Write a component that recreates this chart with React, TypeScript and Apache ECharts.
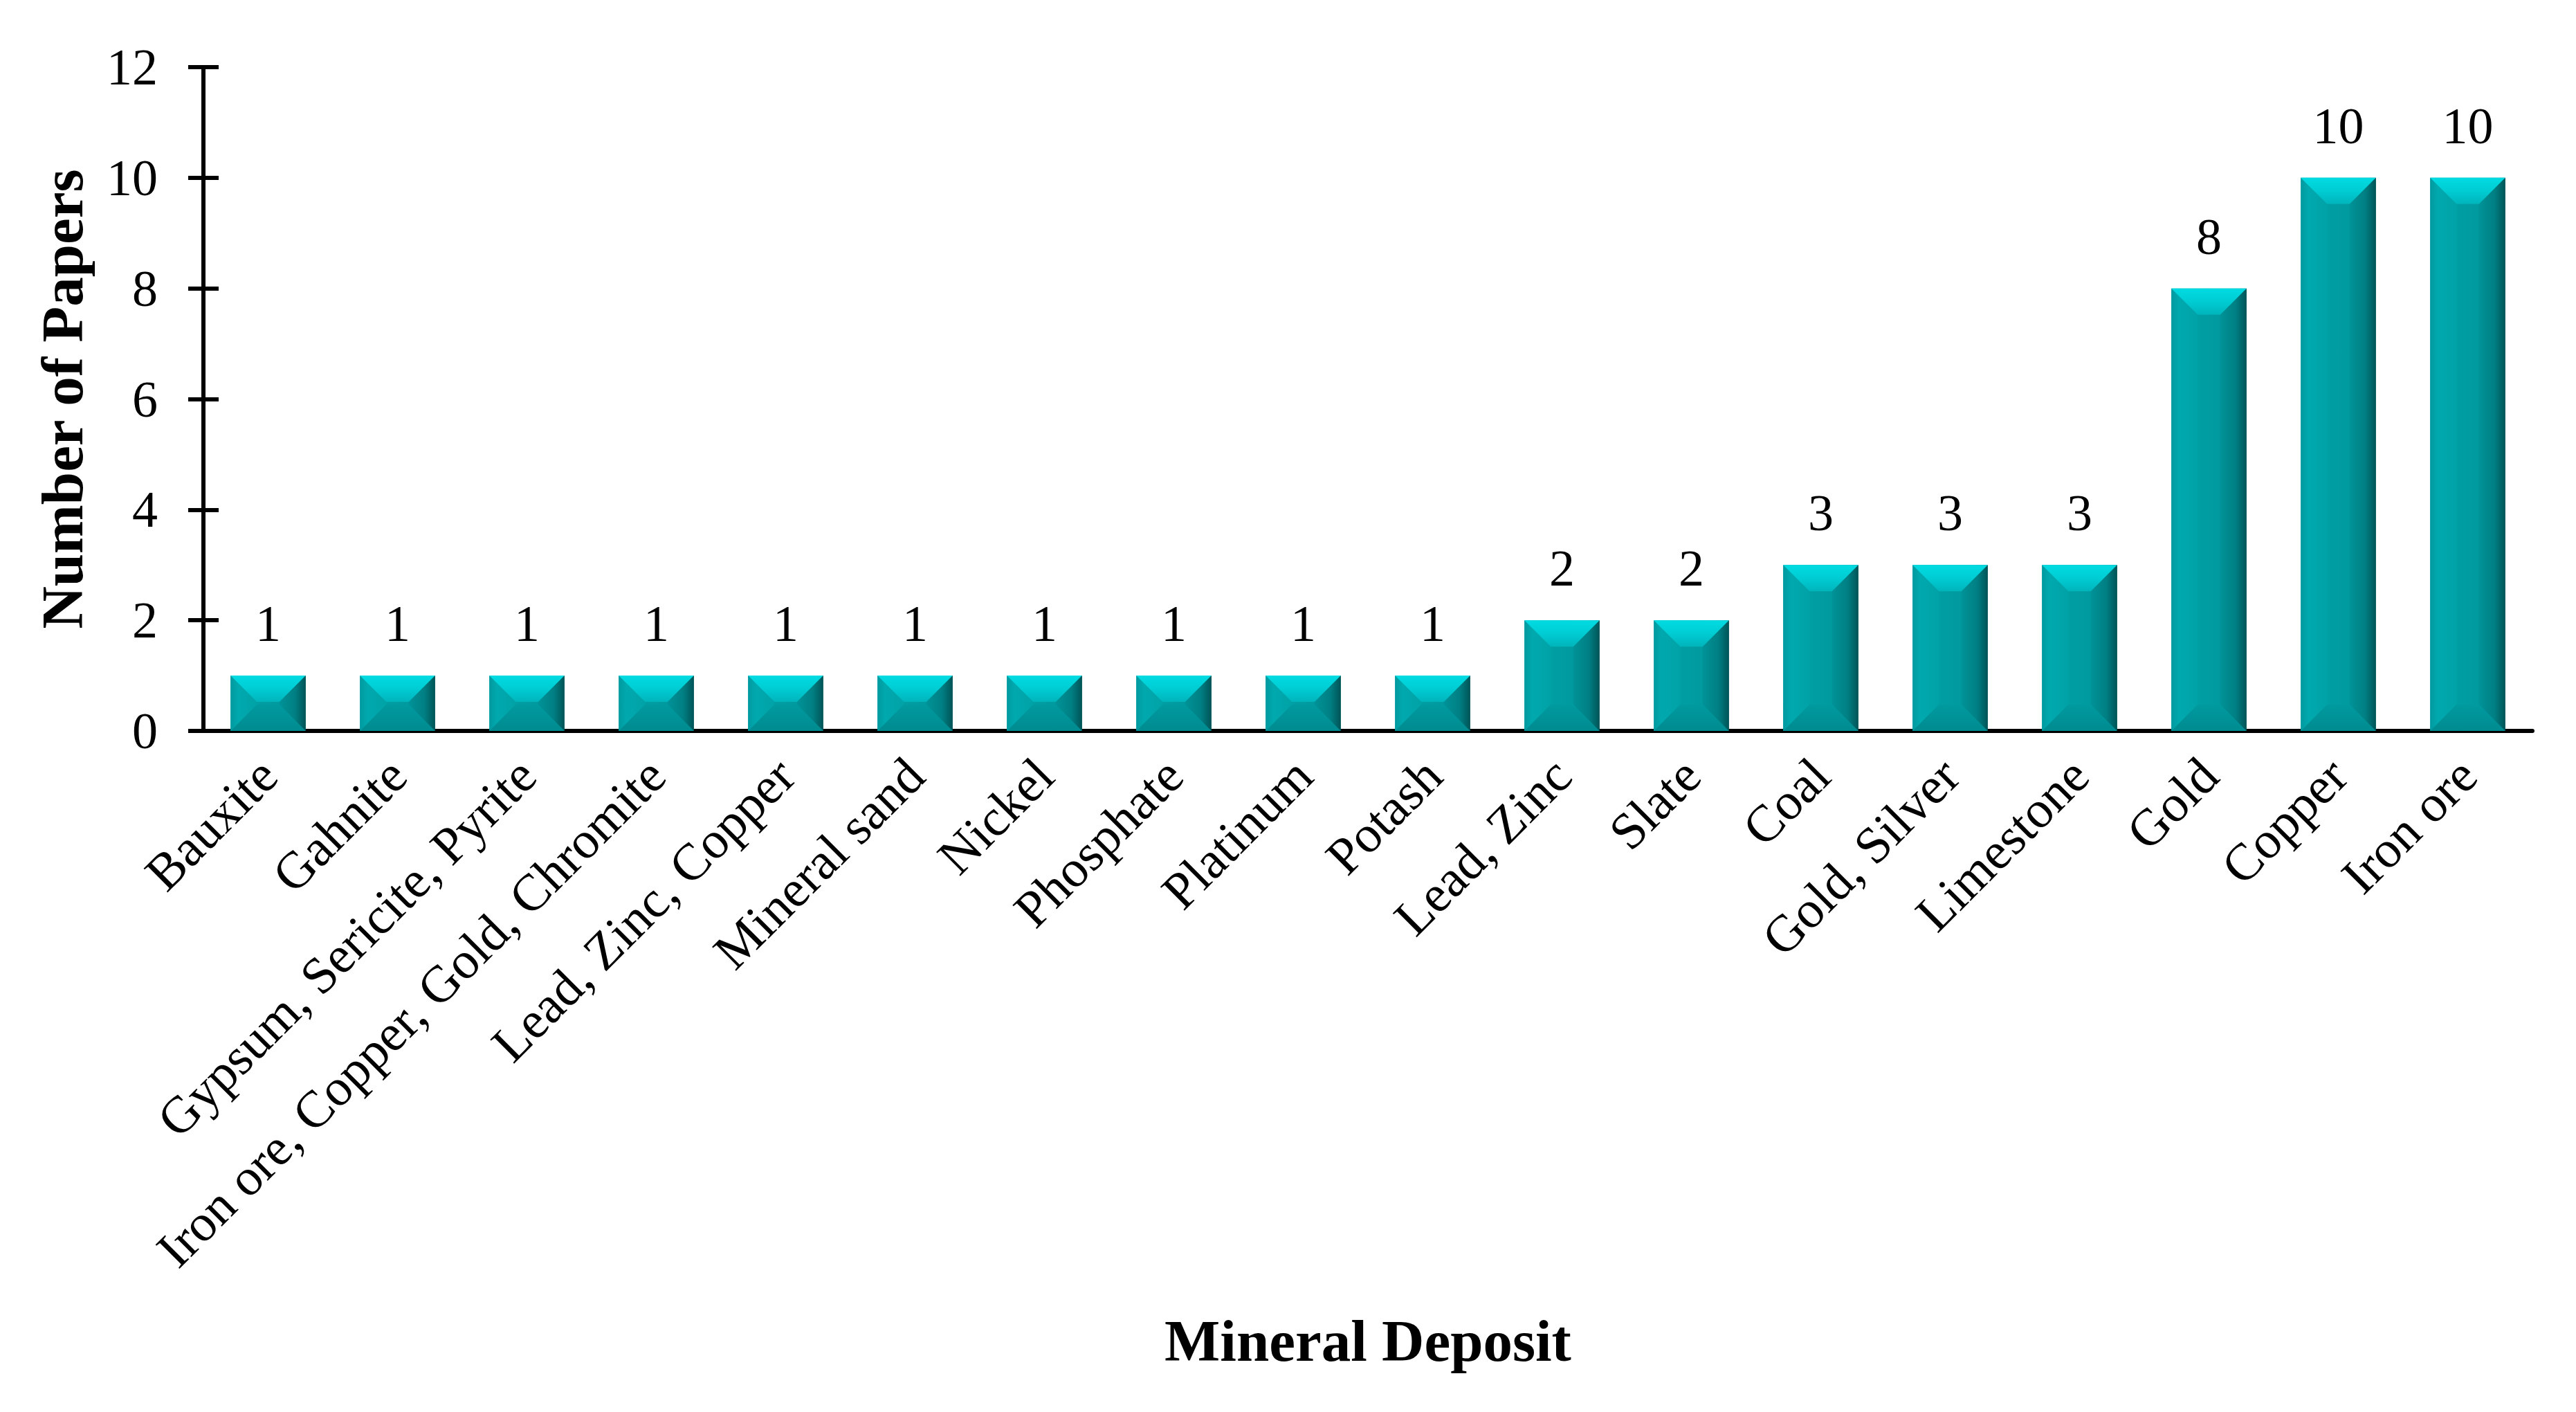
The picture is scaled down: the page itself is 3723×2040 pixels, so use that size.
import React, { useEffect, useRef } from "react";
import * as echarts from "echarts";

const categories: string[] = [
  "Bauxite",
  "Gahnite",
  "Gypsum, Sericite, Pyrite",
  "Iron ore, Copper, Gold, Chromite",
  "Lead, Zinc, Copper",
  "Mineral sand",
  "Nickel",
  "Phosphate",
  "Platinum",
  "Potash",
  "Lead, Zinc",
  "Slate",
  "Coal",
  "Gold, Silver",
  "Limestone",
  "Gold",
  "Copper",
  "Iron ore",
];
const paperCounts: number[] = [1, 1, 1, 1, 1, 1, 1, 1, 1, 1, 2, 2, 3, 3, 3, 8, 10, 10];
const yMin = 0;
const yMax = 12;
const yInterval = 2;

const xAxisTitle = "Mineral Deposit";
const yAxisTitle = "Number of Papers";

const FONT = "'Liberation Serif', 'Times New Roman', serif";
const BAR_FRACTION = 0.58;
const BEVEL = 38;

export default function App() {
  const ref = useRef<HTMLDivElement | null>(null);
  useEffect(() => {
    document.body.style.margin = "0";
    if (!ref.current) return;
    const chart = echarts.init(ref.current, undefined, { renderer: "svg" });
    const lg = (x1: number, y1: number, x2: number, y2: number, stops: [number, string][]) =>
      new echarts.graphic.LinearGradient(
        x1,
        y1,
        x2,
        y2,
        stops.map(([offset, color]) => ({ offset, color }))
      );

    const renderItem = (params: any, api: any) => {
      const idx = api.value(0);
      const val = api.value(1);
      const top = api.coord([idx, val]);
      const base = api.coord([idx, 0]);
      const band = api.size([1, 0])[0];
      const w = band * BAR_FRACTION;
      const x0 = top[0] - w / 2;
      const x1 = top[0] + w / 2;
      const y0 = top[1];
      const y1 = base[1];
      const b = Math.min(BEVEL, w / 2, (y1 - y0) / 2);
      return {
        type: "group",
        children: [
          {
            type: "rect",
            shape: { x: x0, y: y0, width: w, height: y1 - y0 },
            style: {
              fill: lg(0, 0, 1, 0, [
                [0, "#009ca1"],
                [0.08, "#00a9ae"],
                [0.3, "#00a0a5"],
                [0.8, "#00979c"],
                [0.93, "#007a7e"],
                [1, "#005a5e"],
              ]),
            },
          },
          {
            type: "polygon",
            shape: { points: [[x0, y0], [x0 + b, y0 + b], [x0 + b, y1 - b], [x0, y1]] },
            style: {
              fill: lg(0, 0, 1, 0, [
                [0, "#009aa0"],
                [0.3, "#00a9ae"],
                [1, "#00a2a7"],
              ]),
            },
          },
          {
            type: "polygon",
            shape: { points: [[x1, y0], [x1 - b, y0 + b], [x1 - b, y1 - b], [x1, y1]] },
            style: {
              fill: lg(0, 0, 1, 0, [
                [0, "#009398"],
                [0.6, "#007f83"],
                [1, "#005457"],
              ]),
            },
          },
          {
            type: "polygon",
            shape: { points: [[x0, y0], [x1, y0], [x1 - b, y0 + b], [x0 + b, y0 + b]] },
            style: {
              fill: lg(0, 0, 0, 1, [
                [0, "#00dbe2"],
                [0.5, "#00ccd3"],
                [1, "#00b4bb"],
              ]),
            },
          },
          {
            type: "polygon",
            shape: { points: [[x0, y1], [x1, y1], [x1 - b, y1 - b], [x0 + b, y1 - b]] },
            style: {
              fill: lg(0, 0, 0, 1, [
                [0, "#009a9f"],
                [1, "#008b90"],
              ]),
            },
          },
        ],
      };
    };

    chart.setOption({
      animation: false,
      backgroundColor: "#ffffff",
      textStyle: { fontFamily: FONT },
      grid: { left: 294, right: 63, top: 97, bottom: 984, containLabel: false },
      xAxis: {
        type: "category",
        data: categories,
        boundaryGap: true,
        axisLine: { show: true, lineStyle: { color: "#000", width: 6 } },
        axisTick: { show: false },
        axisLabel: {
          rotate: 45,
          interval: 0,
          margin: 52,
          fontSize: 75,
          color: "#000",
          fontFamily: FONT,
        },
        name: xAxisTitle,
        nameLocation: "middle",
        nameGap: 838,
        nameTextStyle: { fontSize: 85, fontWeight: "bold", color: "#000", fontFamily: FONT },
        splitLine: { show: false },
      },
      yAxis: [
        {
          type: "value",
          min: yMin,
          max: yMax,
          interval: yInterval,
          axisLine: { show: true, lineStyle: { color: "#000", width: 6 } },
          axisTick: { show: true, inside: false, length: 22, lineStyle: { color: "#000", width: 6 } },
          axisLabel: { margin: 66, fontSize: 74, color: "#000", fontFamily: FONT },
          splitLine: { show: false },
          name: yAxisTitle,
          nameLocation: "middle",
          nameRotate: 90,
          nameGap: 162,
          nameTextStyle: { fontSize: 85, fontWeight: "bold", color: "#000", fontFamily: FONT },
        },
        {
          type: "value",
          position: "left",
          min: yMin,
          max: yMax,
          interval: yInterval,
          axisLine: { show: false },
          axisTick: { show: true, inside: true, length: 22, lineStyle: { color: "#000", width: 6 } },
          axisLabel: { show: false },
          splitLine: { show: false },
        },
      ],
      series: [
        {
          type: "bar",
          data: paperCounts,
          barCategoryGap: "42%",
          itemStyle: { color: "rgba(0,0,0,0)" },
          label: {
            show: true,
            position: "top",
            distance: 38,
            fontSize: 74,
            color: "#000",
            fontFamily: FONT,
          },
          z: 3,
        },
        {
          type: "custom",
          data: paperCounts.map((v, i) => [i, v]),
          encode: { x: 0, y: 1 },
          renderItem,
          z: 2,
        },
      ],
    });
    return () => chart.dispose();
  }, []);
  return <div ref={ref} style={{ width: 3723, height: 2040 }} />;
}
